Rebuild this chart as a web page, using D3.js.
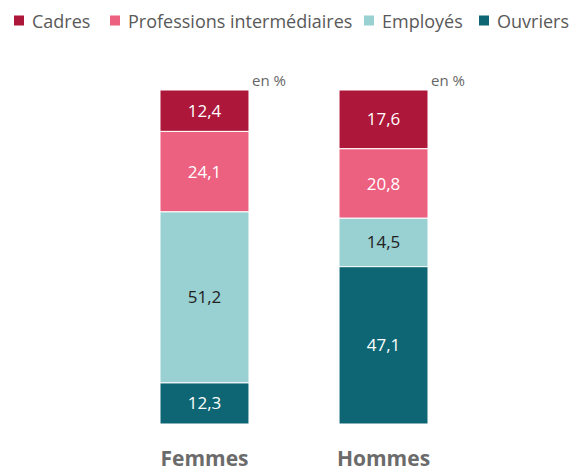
<!DOCTYPE html>
<html>
<head>
<meta charset="utf-8">
<script src="https://cdn.jsdelivr.net/npm/d3@7"></script>
<style>
  body { margin: 0; background: #fff; }
  text { font-family: "Open Sans", sans-serif; }
</style>
</head>
<body>
<script>
// data
var groups = ["Femmes", "Hommes"];
var categories = ["Cadres", "Professions intermédiaires", "Employés", "Ouvriers"];
var cadres = [12.4, 17.6];
var professions = [24.1, 20.8];
var employes = [51.2, 14.5];
var ouvriers = [12.3, 47.1];
var colors = ["#ad1739", "#ec6080", "#99d0d1", "#0e6674"];
var labelColors = ["#fff", "#fff", "#222", "#fff"];

var width = 575, height = 468;
var svg = d3.select("body").append("svg")
    .attr("width", width)
    .attr("height", height);

// Stack the series
var rows = groups.map(function(g, i) {
  return { group: g, Cadres: cadres[i], "Professions intermédiaires": professions[i], "Employés": employes[i], Ouvriers: ouvriers[i] };
});
var series = d3.stack().keys(categories)(rows);

var x = d3.scaleBand().domain(groups).range([160, 428]).paddingInner(0.503).paddingOuter(0);
var y = d3.scaleLinear().domain([0, 100]).range([90, 424]);

// Legend
var legendX = [14, 110, 364, 479];
var legend = svg.selectAll(".legend")
    .data(categories)
    .enter().append("g")
    .attr("transform", function(d, i) { return "translate(" + legendX[i] + ",0)"; });
legend.append("rect")
    .attr("width", 10).attr("height", 10)
    .attr("y", 15.5)
    .attr("fill", function(d, i) { return colors[i]; });
legend.append("text")
    .attr("x", 18).attr("y", 28)
    .attr("font-size", 18)
    .attr("fill", "#595959")
    .text(function(d) { return d; });

// Bars
var layer = svg.selectAll(".layer")
    .data(series)
    .enter().append("g")
    .attr("fill", function(d, i) { return colors[i]; });

layer.selectAll("rect")
    .data(function(d) { return d; })
    .enter().append("rect")
    .attr("x", function(d) { return x(d.data.group); })
    .attr("width", x.bandwidth())
    .attr("y", function(d) { return y(d[0]); })
    .attr("height", function(d) { return y(d[1]) - y(d[0]); })
    .attr("stroke", "#fff")
    .attr("stroke-width", 1);

layer.each(function(s, si) {
  d3.select(this).selectAll("text")
    .data(s)
    .enter().append("text")
    .attr("x", function(d) { return x(d.data.group) + x.bandwidth() / 2; })
    .attr("y", function(d) { return (y(d[0]) + y(d[1])) / 2 + 6; })
    .attr("text-anchor", "middle")
    .attr("font-size", 17)
    .attr("fill", labelColors[si])
    .text(function(d) { return d3.format(".1f")(d[1] - d[0]).replace(".", ","); });
});

// "en %" notes
svg.selectAll(".unit")
    .data(groups)
    .enter().append("text")
    .attr("x", function(d) { return x(d) + x.bandwidth() + 3; })
    .attr("y", 86)
    .attr("font-size", 15)
    .attr("fill", "#666")
    .text("en %");

// Category labels
svg.selectAll(".cat")
    .data(groups)
    .enter().append("text")
    .attr("x", function(d) { return x(d) + x.bandwidth() / 2; })
    .attr("y", 466)
    .attr("text-anchor", "middle")
    .attr("font-size", 21)
    .attr("font-weight", "bold")
    .attr("fill", "#6b6b6b")
    .text(function(d) { return d; });
</script>
</body>
</html>
